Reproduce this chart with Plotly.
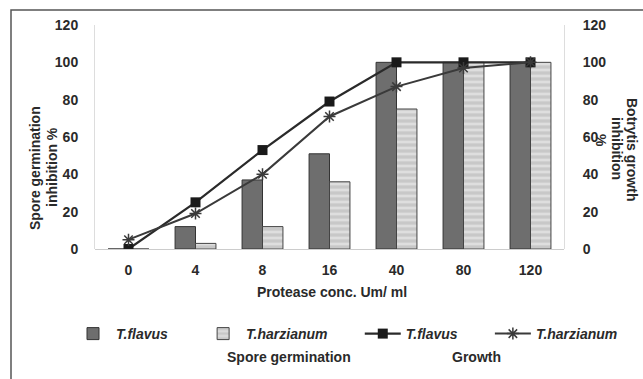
import plotly.graph_objects as go

categories = ["0", "4", "8", "16", "40", "80", "120"]
spore_flavus = [0, 12, 37, 51, 100, 100, 100]
spore_harzianum = [0, 3, 12, 36, 75, 100, 100]
growth_flavus = [0, 25, 53, 79, 100, 100, 100]
growth_harzianum = [5, 19, 40, 71, 87, 97, 100]
ytick_vals = [0, 20, 40, 60, 80, 100, 120]

W, H = 643, 379
L, R, T, B = 95, 79, 25, 130
pw, ph = W - L - R, H - T - B

def px(x):
    return (x - L) / pw

def py(y):
    return (H - B - y) / ph

FS = 14
font = dict(family="Liberation Sans, Arial", size=FS, color="#2a2a2a", weight="bold")
pad = "&nbsp;" * 7

fig = go.Figure()
fig.add_trace(go.Bar(x=categories, y=spore_flavus, name="<i>T.flavus</i>" + pad,
                     marker=dict(color="#6e6e6e", line=dict(color="#333", width=1))))
fig.add_trace(go.Bar(x=categories, y=spore_harzianum, name="<i>T.harzianum</i>" + pad,
                     marker=dict(color="#d6d6d6", line=dict(color="#444", width=1),
                                 pattern=dict(shape="-", fgcolor="#f4f4f4", bgcolor="#c8c8c8",
                                              size=6, solidity=0.45))))
fig.add_trace(go.Scatter(x=categories, y=growth_flavus, name="<i>T.flavus</i>" + pad, yaxis="y2",
                         mode="lines+markers",
                         line=dict(color="#2a2a2a", width=2.2),
                         marker=dict(symbol="square", size=10, color="#1a1a1a")))
fig.add_trace(go.Scatter(x=categories, y=growth_harzianum, name="<i>T.harzianum</i>", yaxis="y2",
                         mode="lines+markers",
                         line=dict(color="#3a3a3a", width=2),
                         marker=dict(symbol="asterisk-open", size=10,
                                     line=dict(color="#666", width=1.5))))

fig.update_layout(
    width=W, height=H,
    margin=dict(l=L, r=R, t=T, b=B, autoexpand=False),
    paper_bgcolor="white", plot_bgcolor="white",
    font=font,
    barmode="group", bargap=0.39, bargroupgap=0.0,
    xaxis=dict(type="category", showline=False, showgrid=False, ticks="", automargin=False,
               tickfont=dict(size=FS, weight="bold"), ticklabelstandoff=11),
    yaxis=dict(range=[0, 120], tickvals=ytick_vals, showgrid=False, zeroline=True,
               zerolinecolor="#cccccc", zerolinewidth=1, automargin=False,
               showline=True, linecolor="#dddddd", linewidth=1,
               tickfont=dict(size=FS, weight="bold"), ticklabelstandoff=13),
    yaxis2=dict(range=[0, 120], tickvals=ytick_vals, overlaying="y", side="right",
                showgrid=False, zeroline=False, showline=True, linecolor="#dddddd",
                automargin=False,
                tickfont=dict(size=FS, weight="bold"), ticklabelstandoff=15),
    legend=dict(orientation="h", x=px(70), xanchor="left", y=py(334), yanchor="middle",
                font=dict(size=FS, weight="bold"), itemwidth=36, tracegroupgap=0,
                bgcolor="rgba(0,0,0,0)"),
    showlegend=True,
)

def note(text, x, y, angle=0):
    fig.add_annotation(text=text, textangle=angle, x=px(x), y=py(y),
                       xref="paper", yref="paper", showarrow=False,
                       font=dict(size=FS, weight="bold"))

note("Protease conc. Um/ ml", 332, 302)
note("Spore germination", 25, 168, -90)
note("inhibition %", 42, 167, -90)
note("Botrytis growth", 642, 149, 90)
note("inhibition", 627, 148, 90)
note("%", 611, 140, 90)
note("Spore germination", 225, 367)
note("Growth", 503, 367)

# outer frame
fig.add_shape(type="rect", xref="paper", yref="paper",
              x0=px(11), x1=px(700), y0=py(420), y1=py(10),
              line=dict(color="#555", width=1.5), fillcolor="rgba(0,0,0,0)", layer="below")

fig.write_html("out.html")
